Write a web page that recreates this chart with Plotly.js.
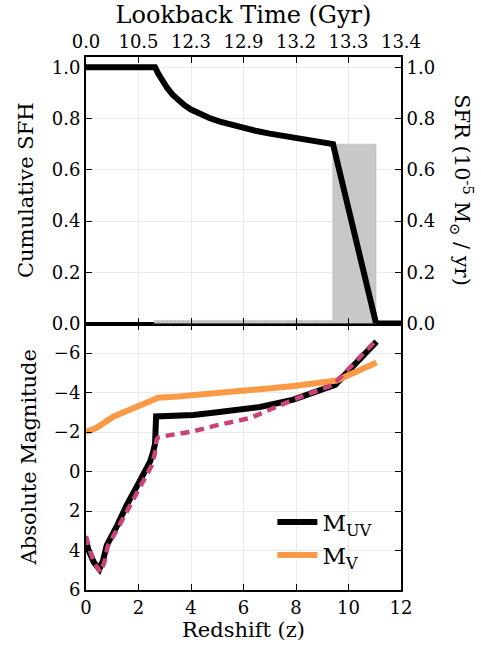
<!DOCTYPE html>
<html>
<head>
<meta charset="utf-8">
<script src="https://cdn.plot.ly/plotly-3.0.1.min.js"></script>
<style>html,body{margin:0;padding:0;background:#fff;}#chart{width:481px;height:648px;}</style>
</head>
<body>
<div id="chart"></div>
<script>
// ---- data ----
var sfhZ   = [0, 2.63, 2.75, 2.9, 3.1, 3.3, 3.5, 3.75, 4.0, 4.3, 4.7, 5.1, 5.5, 6.0, 6.5, 7.0, 7.5, 8.0, 8.5, 9.0, 9.41, 11.05, 12];
var sfhCum = [1, 1, 0.975, 0.948, 0.918, 0.893, 0.872, 0.852, 0.835, 0.82, 0.802, 0.788, 0.776, 0.763, 0.751, 0.741, 0.732, 0.724, 0.716, 0.708, 0.70, 0, 0];

var sfrEdges = [2.6, 2.76, 2.92, 3.08, 3.24, 3.4, 3.56, 3.72, 3.88, 4.05, 4.3, 4.55, 4.8, 5.1, 5.4, 5.7, 6.0, 6.4, 6.8, 7.2, 7.7, 8.2, 8.8, 9.4, 11.05];
var sfrValues = [0.012, 0.012, 0.012, 0.012, 0.012, 0.012, 0.012, 0.012, 0.012, 0.012, 0.012, 0.012, 0.012, 0.012, 0.012, 0.012, 0.012, 0.012, 0.012, 0.012, 0.012, 0.012, 0.012, 0.70];

var muvZ   = [0, 0.1, 0.3, 0.51, 0.65, 0.79, 1.2, 1.55, 2.0, 2.3, 2.44, 2.55, 2.63, 2.67, 3.0, 4.09, 5.0, 6.25, 6.63, 7.9, 9.49, 11.07];
var muvMag = [3.5, 4.0, 4.6, 4.95, 4.5, 3.74, 2.7, 1.7, 0.6, -0.1, -0.5, -0.95, -1.4, -2.79, -2.8, -2.86, -3.0, -3.17, -3.27, -3.64, -4.39, -6.58];

var dashZ   = [0, 0.1, 0.3, 0.55, 0.7, 0.83, 1.2, 1.6, 2.0, 2.31, 2.5, 2.62, 2.69, 2.75, 3.0, 4.09, 5.0, 6.25, 6.76, 7.9, 9.41, 11.07];
var dashMag = [3.27, 3.8, 4.6, 5.1, 4.6, 3.77, 2.9, 1.9, 1.0, 0.24, -0.3, -0.9, -1.62, -1.72, -1.8, -2.04, -2.35, -2.71, -3.0, -3.64, -4.39, -6.67];

var mvZ   = [0, 0.4, 1.04, 1.6, 2.57, 2.75, 3.5, 4.09, 4.7, 5.5, 6.25, 6.63, 8.0, 9.55, 11.07];
var mvMag = [-2.0, -2.22, -2.78, -3.1, -3.64, -3.74, -3.8, -3.87, -3.87, -4.0, -4.1, -4.17, -4.35, -4.61, -5.52];

var zTicks = [0, 2, 4, 6, 8, 10, 12];
var lookbackLabels = ['0.0', '10.5', '12.3', '12.9', '13.2', '13.3', '13.4'];

// ---- derived bar geometry ----
var barX = [], barW = [];
for (var i = 0; i < sfrValues.length; i++) {
  barX.push((sfrEdges[i] + sfrEdges[i + 1]) / 2);
  barW.push(sfrEdges[i + 1] - sfrEdges[i]);
}

var FONT = "'DejaVu Serif', 'Liberation Serif', serif";
var BLACK = '#000000', ORANGE = '#fb9a46', PINK = '#c9427a';

var traces = [
  {x: barX, y: sfrValues, width: barW, type: 'bar', xaxis: 'x2', yaxis: 'y2',
   marker: {color: '#c8c8c8', line: {color: '#b4b4b4', width: 0.5}}, showlegend: false, hoverinfo: 'skip'},
  {x: sfhZ, y: sfhCum, type: 'scatter', mode: 'lines', xaxis: 'x2', yaxis: 'y3',
   line: {color: BLACK, width: 6}, showlegend: false, cliponaxis: false},
  {x: muvZ, y: muvMag, type: 'scatter', mode: 'lines', xaxis: 'x', yaxis: 'y',
   line: {color: BLACK, width: 6}, name: 'M<sub>UV</sub>', cliponaxis: false},
  {x: mvZ, y: mvMag, type: 'scatter', mode: 'lines', xaxis: 'x', yaxis: 'y',
   line: {color: ORANGE, width: 6}, name: 'M<sub>V</sub>', cliponaxis: false},
  {x: dashZ, y: dashMag, type: 'scatter', mode: 'lines', xaxis: 'x', yaxis: 'y',
   line: {color: PINK, width: 4.5, dash: '9px,6px'}, showlegend: false, cliponaxis: false}
];

var common = {
  showline: true, linecolor: '#000', linewidth: 2, mirror: 'ticks',
  ticks: 'inside', ticklen: 6, tickwidth: 1, tickcolor: '#000',
  showgrid: true, gridcolor: '#ebebeb', gridwidth: 1, zeroline: false,
  tickfont: {family: FONT, size: 18, color: '#000'}
};
function ax(o) { var r = {}; for (var k in common) r[k] = common[k]; for (var k2 in o) r[k2] = o[k2]; return r; }

var layout = {
  width: 481, height: 648,
  margin: {l: 86, r: 80, t: 57, b: 58},
  paper_bgcolor: '#fff', plot_bgcolor: '#fff',
  font: {family: FONT, color: '#000'},
  bargap: 0,
  showlegend: true,
  legend: {x: 0.925, xanchor: 'right', y: 0.025, yanchor: 'bottom', bgcolor: 'rgba(0,0,0,0)',
           font: {family: FONT, size: 23, color: '#000'}, tracegroupgap: 0, itemwidth: 40},
  xaxis: ax({domain: [0, 1], anchor: 'y', range: [0, 12], tickvals: zTicks,
             title: {text: 'Redshift (z)', font: {family: FONT, size: 21}, standoff: 3}}),
  yaxis: ax({domain: [0, 0.5], anchor: 'x', range: [6, -7.5], tickvals: [-6, -4, -2, 0, 2, 4, 6],
             title: {text: 'Absolute Magnitude', font: {family: FONT, size: 21}, standoff: 12}}),
  xaxis2: ax({domain: [0, 1], anchor: 'y2', side: 'top', range: [0, 12], tickvals: zTicks, ticktext: lookbackLabels,
              title: {text: 'Lookback Time (Gyr)', font: {family: FONT, size: 24}, standoff: 0}}),
  yaxis2: ax({domain: [0.5, 1], anchor: 'x2', range: [0, 1.04], tickvals: [0, 0.2, 0.4, 0.6, 0.8, 1.0], tickformat: '.1f',
              title: {text: 'Cumulative SFH', font: {family: FONT, size: 21}, standoff: 12}}),
  yaxis3: ax({overlaying: 'y2', anchor: 'x2', side: 'right', range: [0, 1.04], tickvals: [0, 0.2, 0.4, 0.6, 0.8, 1.0], tickformat: '.1f',
              showgrid: false, mirror: false}),
  annotations: [{
    xref: 'paper', yref: 'paper', x: 1.194, y: 0.75, xanchor: 'center', yanchor: 'middle',
    text: 'SFR (10<sup>-5</sup> M<sub>⊙</sub> / yr)', textangle: 90, showarrow: false,
    font: {family: FONT, size: 21, color: '#000'}
  }]
};

Plotly.newPlot('chart', traces, layout, {displayModeBar: false, staticPlot: true});
</script>
</body>
</html>
